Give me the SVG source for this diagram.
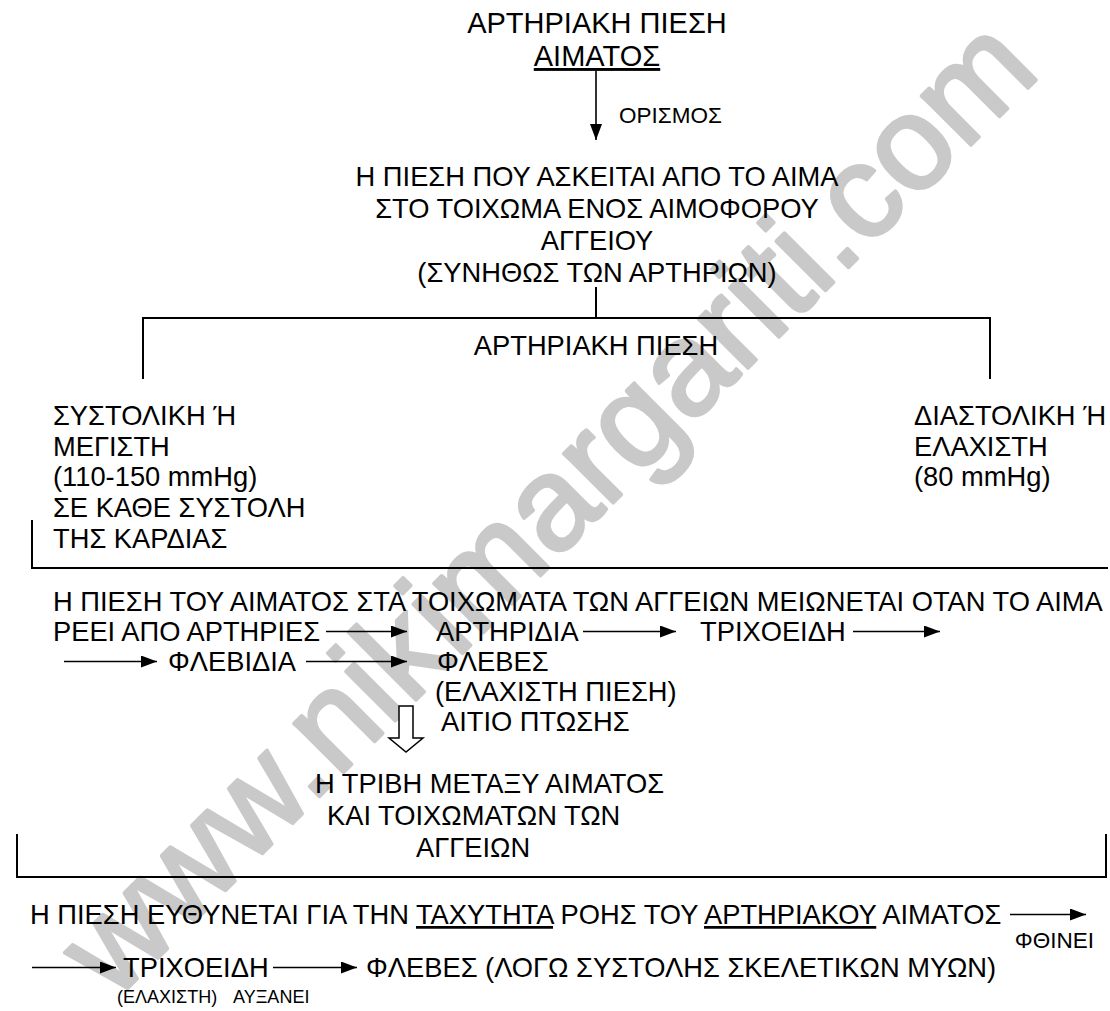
<svg xmlns="http://www.w3.org/2000/svg" width="1110" height="1011" viewBox="0 0 1110 1011">
<defs>
<style>
text{font-family:"Liberation Sans",Arial,sans-serif;fill:#000}
.t{font-size:29px}
.b{font-size:27.3px}
.s{font-size:22.5px}
.x{font-size:18px}
.c{text-anchor:middle}
.e{text-anchor:end}
.u{text-decoration:underline}
.ln{stroke:#000;stroke-width:2;fill:none}
.ar{stroke:#000;stroke-width:1.6;fill:none;marker-end:url(#ah)}
.wm{font-family:"Liberation Sans",Arial,sans-serif;font-size:132px;fill:#c9c9c9;stroke:#c9c9c9;stroke-width:3.5;stroke-linejoin:round}
</style>
<marker id="ah" markerUnits="userSpaceOnUse" markerWidth="16" markerHeight="12" refX="16" refY="6" orient="auto"><path d="M0,0 L16,6 L0,12 z" fill="#000"/></marker>
</defs>
<rect width="1110" height="1011" fill="#fff"/>
<text class="wm" transform="translate(114,1002) rotate(-45)">www.nikimargariti.com</text>
<g id="connectors">
<line class="ar" x1="596" y1="71" x2="596" y2="140"/>
<path class="ln" d="M596,287 V318 M143,379 V318 H990 V379"/>
<path class="ln" d="M32,520 V568 H1108"/>
<path class="ln" d="M17,834 V877 H1106 V834"/>
<line class="ar" x1="326" y1="631.5" x2="407" y2="631.5"/>
<line class="ar" x1="583" y1="631.5" x2="676" y2="631.5"/>
<line class="ar" x1="853" y1="631.5" x2="940" y2="631.5"/>
<line class="ar" x1="64" y1="661.5" x2="157" y2="661.5"/>
<line class="ar" x1="306" y1="661.5" x2="407" y2="661.5"/>
<polygon points="399,706 413,706 413,738 423,738 406,752 389,738 399,738" fill="#fff" stroke="#000" stroke-width="1.5"/>
<line class="ar" x1="1010" y1="914.5" x2="1086" y2="914.5"/>
<line class="ar" x1="32" y1="967.5" x2="116" y2="967.5"/>
<line class="ar" x1="273" y1="967.5" x2="357" y2="967.5"/>
</g>
<g id="title">
<text class="t c" x="597" y="33">ΑΡΤΗΡΙΑΚΗ ΠΙΕΣΗ</text>
<text class="t c u" x="597" y="66">ΑΙΜΑΤΟΣ</text>
</g>
<g id="label-orismos"><text class="s" x="619" y="123">ΟΡΙΣΜΟΣ</text></g>
<g id="definition">
<text class="b c" x="597" y="186">Η ΠΙΕΣΗ ΠΟΥ ΑΣΚΕΙΤΑΙ ΑΠΟ ΤΟ ΑΙΜΑ</text>
<text class="b c" x="597" y="218">ΣΤΟ ΤΟΙΧΩΜΑ ΕΝΟΣ ΑΙΜΟΦΟΡΟΥ</text>
<text class="b c" x="597" y="250">ΑΓΓΕΙΟΥ</text>
<text class="b c" x="597" y="282">(ΣΥΝΗΘΩΣ ΤΩΝ ΑΡΤΗΡΙΩΝ)</text>
</g>
<g id="arterial-pressure"><text class="b c" x="596" y="355">ΑΡΤΗΡΙΑΚΗ ΠΙΕΣΗ</text></g>
<g id="systolic">
<text class="b" x="53" y="425">ΣΥΣΤΟΛΙΚΗ Ή</text>
<text class="b" x="53" y="456">ΜΕΓΙΣΤΗ</text>
<text class="b" x="53" y="486">(110-150 mmHg)</text>
<text class="b" x="53" y="517">ΣΕ ΚΑΘΕ ΣΥΣΤΟΛΗ</text>
<text class="b" x="53" y="548">ΤΗΣ ΚΑΡΔΙΑΣ</text>
</g>
<g id="diastolic">
<text class="b" x="914" y="425">ΔΙΑΣΤΟΛΙΚΗ Ή</text>
<text class="b" x="914" y="456">ΕΛΑΧΙΣΤΗ</text>
<text class="b" x="914" y="486">(80 mmHg)</text>
</g>
<g id="flow">
<text class="b" x="53" y="611">Η ΠΙΕΣΗ ΤΟΥ ΑΙΜΑΤΟΣ ΣΤΑ ΤΟΙΧΩΜΑΤΑ ΤΩΝ ΑΓΓΕΙΩΝ ΜΕΙΩΝΕΤΑΙ ΟΤΑΝ ΤΟ ΑΙΜΑ</text>
<text class="b" x="53" y="641">ΡΕΕΙ ΑΠΟ ΑΡΤΗΡΙΕΣ</text>
<text class="b" x="436" y="641">ΑΡΤΗΡΙΔΙΑ</text>
<text class="b" x="700" y="641">ΤΡΙΧΟΕΙΔΗ</text>
<text class="b" x="168" y="671">ΦΛΕΒΙΔΙΑ</text>
<text class="b" x="437" y="671">ΦΛΕΒΕΣ</text>
<text class="b" x="435" y="701">(ΕΛΑΧΙΣΤΗ ΠΙΕΣΗ)</text>
<text class="b" x="441" y="731">ΑΙΤΙΟ ΠΤΩΣΗΣ</text>
</g>
<g id="friction">
<text class="b" x="315" y="793">Η ΤΡΙΒΗ ΜΕΤΑΞΥ ΑΙΜΑΤΟΣ</text>
<text class="b" x="327" y="825">ΚΑΙ ΤΟΙΧΩΜΑΤΩΝ ΤΩΝ</text>
<text class="b" x="416" y="857">ΑΓΓΕΙΩΝ</text>
</g>
<g id="velocity">
<text class="b" x="30" y="924">Η ΠΙΕΣΗ ΕΥΘΥΝΕΤΑΙ ΓΙΑ ΤΗΝ <tspan class="u">ΤΑΧΥΤΗΤΑ</tspan> ΡΟΗΣ ΤΟΥ <tspan class="u">ΑΡΤΗΡΙΑΚΟΥ</tspan> ΑΙΜΑΤΟΣ</text>
<text class="s e" x="1094" y="948">ΦΘΙΝΕΙ</text>
<text class="b" x="123" y="977">ΤΡΙΧΟΕΙΔΗ</text>
<text class="b" x="366" y="977">ΦΛΕΒΕΣ (ΛΟΓΩ ΣΥΣΤΟΛΗΣ ΣΚΕΛΕΤΙΚΩΝ ΜΥΩΝ)</text>
<text class="x" x="117" y="1003">(ΕΛΑΧΙΣΤΗ)</text>
<text class="x" x="233" y="1003">ΑΥΞΑΝΕΙ</text>
</g>
</svg>
